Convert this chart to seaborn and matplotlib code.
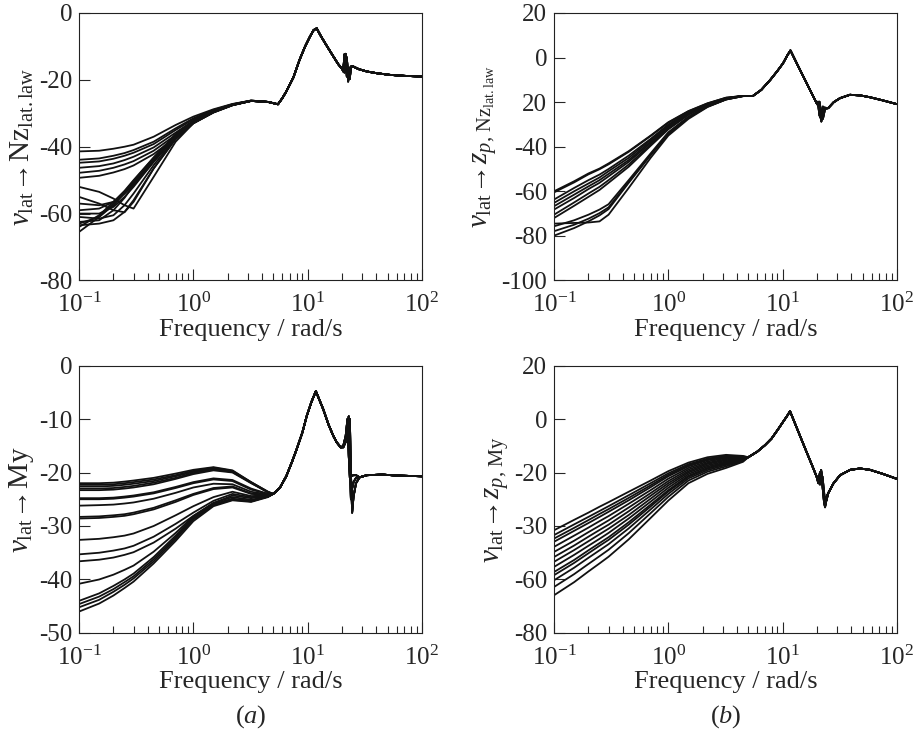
import numpy as np
import pandas as pd
import matplotlib
matplotlib.use("Agg")
import matplotlib.pyplot as plt
import matplotlib.ticker as mticker
import seaborn as sns

# ---------------- data (magnitudes in dB) ----------------
# shared low-frequency grid, rad/s
f_low = [0.1, 0.15, 0.2, 0.25, 0.3, 0.45, 0.7, 1.0, 1.5, 2.2, 3.2, 4.5]

# (a) top: v_lat -> Nz_lat.law
nz_low = [
    [-41.4, -41.2, -40.6, -40.0, -39.4, -37.0, -33.5, -31.0, -28.8, -27.2, -26.2, -26.6],
    [-43.9, -43.5, -42.7, -41.9, -41.0, -38.5, -34.5, -31.5, -29.0, -27.3, -26.2, -26.6],
    [-44.8, -44.4, -43.6, -42.7, -41.8, -39.2, -35.0, -31.8, -29.1, -27.3, -26.2, -26.6],
    [-46.3, -45.8, -45.0, -44.0, -43.0, -40.2, -35.8, -32.2, -29.3, -27.4, -26.2, -26.6],
    [-47.8, -47.2, -46.3, -45.3, -44.3, -41.2, -36.5, -32.6, -29.5, -27.5, -26.3, -26.6],
    [-49.3, -48.7, -47.7, -46.7, -45.6, -42.2, -37.2, -33.0, -29.7, -27.5, -26.3, -26.6],
    [-52.0, -53.5, -55.5, -57.5, -58.5, -49.0, -38.5, -33.0, -29.8, -27.6, -26.3, -26.6],
    [-55.0, -57.0, -59.0, -59.6, -56.5, -46.5, -37.8, -33.0, -29.7, -27.6, -26.3, -26.6],
    [-57.0, -57.5, -56.5, -54.0, -51.5, -44.5, -37.0, -32.7, -29.6, -27.5, -26.3, -26.6],
    [-59.0, -58.5, -56.5, -53.8, -51.0, -44.0, -36.8, -32.6, -29.5, -27.5, -26.3, -26.6],
    [-60.0, -60.0, -58.0, -55.0, -52.0, -44.5, -37.0, -32.7, -29.6, -27.5, -26.3, -26.6],
    [-61.0, -61.5, -60.5, -57.5, -54.0, -45.5, -37.3, -32.8, -29.6, -27.5, -26.3, -26.6],
    [-62.5, -62.0, -59.0, -55.3, -51.5, -44.0, -36.7, -32.6, -29.5, -27.5, -26.3, -26.6],
    [-63.0, -61.0, -57.5, -54.0, -50.5, -43.5, -36.5, -32.5, -29.5, -27.5, -26.3, -26.6],
    [-64.0, -60.5, -56.5, -53.2, -50.0, -43.2, -36.3, -32.4, -29.4, -27.5, -26.3, -26.6],
    [-65.5, -61.0, -57.0, -53.5, -50.2, -43.3, -36.4, -32.4, -29.4, -27.5, -26.3, -26.6],
    [-63.5, -63.0, -62.0, -59.5, -56.0, -46.5, -37.5, -32.9, -29.7, -27.6, -26.3, -26.6],
]
nz_f1 = [5.5, 6.0, 6.5, 7.5, 8.5, 9.5, 10.5, 11.3, 12.0, 13.0, 14.5, 16.5, 18.5, 19.8]
nz_v1 = [-27.3, -25.5, -23.5, -19.3, -14.0, -10.0, -7.0, -5.1, -4.6, -6.8, -9.5, -12.6, -15.3, -16.5]
nz_fn = [20.5, 21.0, 21.5, 22.0, 22.6, 23.3, 24.0]
nz_notch = [
    [-17.2, -13.0, -12.2, -15.0, -20.5, -17.0, -16.0],
    [-17.5, -17.8, -12.5, -13.5, -18.0, -19.8, -16.3],
    [-17.0, -12.3, -14.5, -19.0, -18.5, -16.5, -16.0],
]
nz_f2 = [25, 28, 33, 40, 52, 70, 100]
nz_v2 = [-16.0, -16.8, -17.5, -18.0, -18.5, -18.8, -19.0]

# (b) top: v_lat -> z_p, Nz_lat.law
zn_low = [
    [-60.0, -55.5, -52.0, -49.8, -47.5, -42.0, -35.0, -29.0, -24.0, -20.5, -18.0, -17.2],
    [-60.5, -56.0, -52.4, -50.1, -47.9, -42.3, -35.2, -29.2, -24.1, -20.6, -18.0, -17.2],
    [-63.7, -58.5, -55.0, -52.5, -50.0, -44.0, -36.5, -30.0, -24.5, -20.8, -18.2, -17.2],
    [-65.2, -60.0, -56.5, -53.8, -51.0, -45.0, -37.0, -30.5, -24.8, -21.0, -18.3, -17.2],
    [-66.7, -61.5, -57.8, -55.0, -52.2, -46.0, -37.7, -31.0, -25.0, -21.1, -18.4, -17.2],
    [-68.2, -63.0, -59.0, -56.2, -53.3, -46.8, -38.3, -31.3, -25.2, -21.2, -18.4, -17.2],
    [-70.5, -65.0, -61.0, -58.0, -55.0, -48.0, -39.0, -31.8, -25.5, -21.3, -18.5, -17.2],
    [-72.0, -66.5, -62.5, -59.4, -56.2, -49.0, -39.6, -32.2, -25.7, -21.4, -18.5, -17.2],
    [-74.5, -74.2, -74.0, -73.5, -70.5, -58.5, -45.0, -35.0, -27.5, -22.2, -18.8, -17.3],
    [-75.7, -73.0, -70.5, -68.2, -65.8, -55.0, -43.0, -33.5, -26.5, -21.8, -18.7, -17.3],
    [-77.9, -75.0, -72.3, -69.8, -67.2, -55.8, -43.5, -34.0, -26.8, -22.0, -18.8, -17.3],
    [-79.9, -76.5, -73.5, -70.8, -68.0, -56.2, -43.8, -34.3, -27.0, -22.0, -18.8, -17.3],
]
zn_f1 = [5.5, 6.5, 7.8, 9.0, 10.1, 11.0, 11.7, 12.5, 13.5, 15.2, 17.5, 19.8]
zn_v1 = [-17.2, -14.5, -10.0, -6.0, -2.5, 1.0, 3.2, 0.2, -3.3, -8.6, -14.9, -20.4]
zn_fn = [20.4, 21.0, 21.8, 22.5, 23.5]
zn_notch = [
    [-19.8, -24.0, -28.7, -25.0, -22.5],
    [-21.5, -19.8, -25.0, -27.5, -23.0],
    [-20.8, -26.0, -27.5, -22.0, -22.8],
]
zn_f2 = [25, 28, 31.8, 38.8, 48, 58, 75, 100]
zn_v2 = [-22.7, -20.0, -18.2, -16.7, -17.0, -17.8, -19.2, -20.9]

# (a) bottom: v_lat -> My
my_low = [
    [-22.0, -22.0, -21.9, -21.7, -21.5, -21.0, -20.2, -19.5, -19.0, -19.6, -21.8, -23.6],
    [-22.3, -22.3, -22.2, -22.0, -21.8, -21.3, -20.5, -19.7, -19.1, -19.7, -21.8, -23.6],
    [-22.6, -22.6, -22.5, -22.3, -22.1, -21.6, -20.7, -19.9, -19.2, -19.8, -21.9, -23.7],
    [-23.0, -23.0, -22.9, -22.7, -22.5, -21.9, -21.0, -20.1, -19.4, -19.9, -21.9, -23.7],
    [-23.3, -23.3, -23.2, -23.0, -22.8, -22.2, -21.2, -20.3, -19.6, -20.0, -22.0, -23.7],
    [-24.8, -24.8, -24.7, -24.5, -24.3, -23.7, -22.7, -21.8, -21.1, -21.4, -23.0, -24.0],
    [-25.0, -25.0, -24.9, -24.7, -24.5, -23.9, -22.9, -22.0, -21.3, -21.6, -23.2, -24.0],
    [-26.2, -26.1, -26.0, -25.8, -25.6, -24.9, -23.8, -22.8, -22.1, -22.2, -23.6, -24.1],
    [-28.3, -28.2, -28.0, -27.8, -27.5, -26.6, -25.2, -24.0, -22.9, -22.6, -23.9, -24.2],
    [-28.6, -28.5, -28.3, -28.1, -27.8, -26.9, -25.5, -24.2, -23.1, -22.8, -24.0, -24.2],
    [-32.6, -32.4, -32.1, -31.8, -31.4, -30.0, -28.0, -26.3, -24.6, -23.6, -24.4, -24.3],
    [-35.3, -35.0, -34.6, -34.2, -33.7, -32.0, -29.6, -27.5, -25.3, -24.0, -24.6, -24.3],
    [-36.6, -36.3, -35.9, -35.4, -34.9, -33.1, -30.5, -28.1, -25.7, -24.3, -24.8, -24.4],
    [-40.8, -40.0, -39.1, -38.2, -37.4, -34.8, -31.3, -28.2, -25.7, -24.6, -25.1, -24.5],
    [-44.0, -42.6, -41.2, -40.0, -38.9, -35.8, -31.8, -28.3, -25.9, -24.9, -25.3, -24.5],
    [-44.6, -43.2, -41.8, -40.5, -39.4, -36.2, -32.1, -28.6, -26.0, -25.0, -25.4, -24.5],
    [-45.2, -43.8, -42.3, -41.0, -39.8, -36.6, -32.4, -28.8, -26.1, -25.1, -25.4, -24.5],
    [-46.0, -44.5, -43.0, -41.6, -40.4, -37.0, -32.8, -29.1, -26.3, -25.2, -25.5, -24.6],
]
my_f1 = [5.0, 5.7, 6.5, 7.3, 8.0, 9.0, 9.8, 10.8, 11.8, 13.7, 15.2, 16.8, 18.0, 19.5]
my_v1 = [-24.0, -22.9, -20.7, -18.0, -15.7, -12.5, -9.5, -6.8, -4.8, -8.2, -11.0, -13.2, -14.4, -15.3]
my_fn = [20.5, 21.5, 22.3, 22.9, 23.4, 23.9, 24.5, 25.2, 26.5]
my_notch = [
    [-15.0, -13.2, -10.0, -17.0, -21.0, -20.8, -20.6, -20.5, -20.5],
    [-15.2, -13.8, -12.0, -9.5, -18.0, -25.0, -23.0, -21.8, -21.0],
    [-15.3, -14.3, -13.2, -11.8, -10.0, -20.0, -27.5, -24.5, -22.0],
]
my_f2 = [28.5, 33, 45, 65, 100]
my_v2 = [-20.9, -20.5, -20.4, -20.6, -20.7]

# (b) bottom: v_lat -> z_p, My
zm_low = [
    [-41.6, -37.7, -35.0, -32.8, -31.1, -27.2, -23.0, -19.5, -16.3, -14.3, -13.4, -13.8],
    [-43.4, -39.4, -36.6, -34.4, -32.6, -28.5, -24.0, -20.3, -16.9, -14.8, -13.8, -14.0],
    [-44.7, -40.7, -37.8, -35.5, -33.7, -29.5, -24.8, -20.9, -17.3, -15.1, -14.0, -14.1],
    [-45.9, -41.8, -38.9, -36.6, -34.7, -30.4, -25.5, -21.4, -17.7, -15.4, -14.3, -14.2],
    [-47.8, -43.6, -40.6, -38.2, -36.3, -31.7, -26.6, -22.3, -18.3, -15.9, -14.6, -14.4],
    [-49.7, -45.5, -42.3, -39.9, -37.9, -33.1, -27.7, -23.2, -18.9, -16.4, -15.0, -14.5],
    [-51.6, -47.3, -44.0, -41.5, -39.5, -34.5, -28.7, -24.0, -19.5, -16.8, -15.4, -14.7],
    [-53.4, -49.0, -45.7, -43.1, -41.0, -35.9, -29.8, -24.8, -20.0, -17.3, -15.8, -14.9],
    [-55.3, -50.8, -47.4, -44.8, -42.6, -37.2, -30.9, -25.7, -20.6, -17.8, -16.2, -15.0],
    [-57.2, -52.7, -49.1, -46.4, -44.2, -38.6, -32.0, -26.6, -21.2, -18.3, -16.5, -15.2],
    [-58.4, -53.8, -50.2, -47.4, -45.2, -39.5, -32.7, -27.1, -21.6, -18.6, -16.8, -15.3],
    [-60.3, -55.6, -51.9, -49.1, -46.8, -40.9, -33.8, -28.0, -22.2, -19.1, -17.2, -15.5],
    [-62.8, -58.0, -54.2, -51.3, -48.9, -42.7, -35.2, -29.1, -23.0, -19.7, -17.7, -15.7],
    [-65.9, -61.0, -57.0, -54.0, -51.5, -45.0, -37.0, -30.5, -24.0, -20.5, -18.3, -16.0],
]
zm_f1 = [5.0, 6.0, 7.0, 8.0, 9.0, 10.0, 11.0, 11.6, 12.5, 14.0, 16.0, 18.0, 19.8]
zm_v1 = [-14.3, -12.2, -9.8, -7.3, -4.2, -1.3, 1.3, 2.9, -0.5, -5.7, -11.8, -17.1, -21.5]
zm_fn = [20.5, 21.2, 21.7, 22.3, 23.0, 23.5, 24.2]
zm_notch = [
    [-23.0, -20.0, -19.5, -25.0, -31.0, -33.0, -29.0],
    [-24.0, -22.0, -19.0, -23.0, -29.0, -32.5, -30.0],
    [-23.5, -24.5, -22.0, -21.5, -27.0, -31.5, -30.5],
]
zm_f2 = [25, 27.8, 31.8, 39, 47.5, 58, 75, 100]
zm_v2 = [-27.8, -24.1, -21.0, -19.0, -18.5, -19.0, -20.5, -22.4]

# axis labels / ticks as printed
ylabels = [
    r"$v_{\mathrm{lat}}\!\rightarrow\!\mathrm{Nz}_{\mathrm{lat.law}}$",
    r"$v_{\mathrm{lat}}\!\rightarrow\!z_{p,\,\mathrm{Nz}_{\mathrm{lat.law}}}$",
    r"$v_{\mathrm{lat}}\!\rightarrow\!\mathrm{My}$",
    r"$v_{\mathrm{lat}}\!\rightarrow\!z_{p,\,\mathrm{My}}$",
]
yticks = [[0, -20, -40, -60, -80],
          [20, 0, -20, -40, -60, -80, -100],
          [0, -10, -20, -30, -40, -50],
          [20, 0, -20, -40, -60, -80]]
yticklabels = [["0", "-20", "-40", "-60", "-80"],
               ["20", "0", "20", "-40", "-60", "-80", "-100"],
               ["0", "-10", "-20", "-30", "-40", "-50"],
               ["20", "0", "-20", "-30", "-60", "-80"]]
ylims = [(-80, 0), (-100, 20), (-50, 0), (-80, 20)]


def build(low, f1, v1, fn, notch, f2, v2):
    rows = []
    freqs = f_low + f1 + fn + f2
    for i, lv in enumerate(low):
        vals = lv + v1 + notch[i % len(notch)] + v2
        for f, v in zip(freqs, vals):
            rows.append((i, f, v))
    return pd.DataFrame(rows, columns=["curve", "freq", "mag"])


panels = [
    build(nz_low, nz_f1, nz_v1, nz_fn, nz_notch, nz_f2, nz_v2),
    build(zn_low, zn_f1, zn_v1, zn_fn, zn_notch, zn_f2, zn_v2),
    build(my_low, my_f1, my_v1, my_fn, my_notch, my_f2, my_v2),
    build(zm_low, zm_f1, zm_v1, zm_fn, zm_notch, zm_f2, zm_v2),
]

# ---------------- style ----------------
sns.set_style("ticks")
plt.rcParams["font.family"] = ["Liberation Serif", "DejaVu Serif"]
plt.rcParams["mathtext.fontset"] = "custom"
plt.rcParams["mathtext.rm"] = "Liberation Serif"
plt.rcParams["mathtext.it"] = "Liberation Serif:italic"
plt.rcParams["mathtext.bf"] = "Liberation Serif:bold"
plt.rcParams["axes.unicode_minus"] = False

fig, axes = plt.subplots(2, 2, figsize=(9.23, 7.38), dpi=100)
fig.subplots_adjust(left=0.0856, right=0.9718, bottom=0.1423, top=0.9824,
                    wspace=0.385, hspace=0.318)

for k, ax in enumerate(axes.flat):
    sns.lineplot(data=panels[k], x="freq", y="mag", units="curve", estimator=None,
                 color="#111111", lw=1.3, legend=False, ax=ax)
    ax.set_xscale("log")
    ax.set_xlim(0.1, 100)
    ax.set_ylim(*ylims[k])
    ax.set_yticks(yticks[k])
    ax.set_yticklabels(yticklabels[k])
    ax.xaxis.set_major_locator(mticker.LogLocator(base=10))
    ax.xaxis.set_minor_locator(mticker.LogLocator(base=10, subs=np.arange(2, 10)))
    ax.xaxis.set_minor_formatter(mticker.NullFormatter())
    ax.yaxis.set_minor_locator(mticker.NullLocator())
    ax.tick_params(axis="both", which="major", direction="in", length=8, width=0.8,
                   labelsize=18, top=False, right=False)
    ax.tick_params(axis="x", which="major", pad=9)
    ax.tick_params(axis="y", which="major", pad=5)
    ax.tick_params(axis="x", which="minor", direction="in", length=5, width=0.8,
                   top=False)
    for s in ax.spines.values():
        s.set_visible(True)
        s.set_linewidth(0.8)
        s.set_color("#222222")
    ax.set_xlabel("Frequency / rad/s", fontsize=19, labelpad=1)
    ax.set_ylabel(ylabels[k], fontsize=21, labelpad=2)

fig.text(250.5 / 923, 1 - 717 / 738, r"($\mathit{a}$)", ha="center", va="center", fontsize=19)
fig.text(725.5 / 923, 1 - 717 / 738, r"($\mathit{b}$)", ha="center", va="center", fontsize=19)

fig.savefig("out.png", dpi=100)
